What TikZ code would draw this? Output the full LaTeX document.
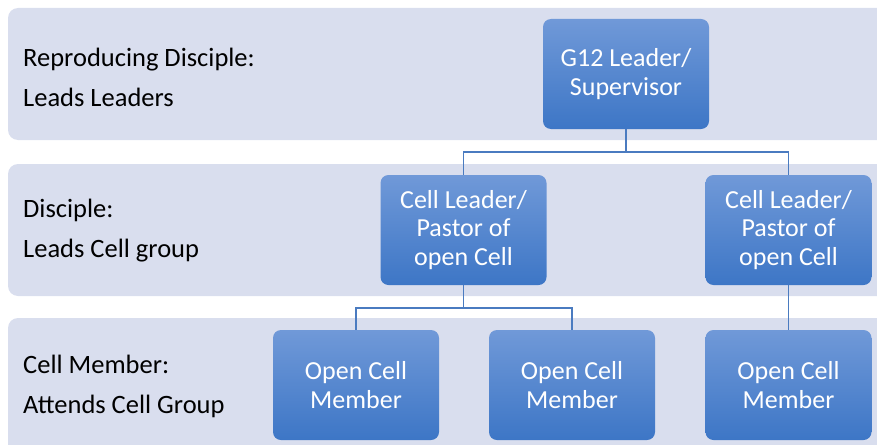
\documentclass[tikz,border=0pt]{standalone}
\usepackage{fontspec}
\setmainfont{Carlito}
\definecolor{bandfill}{HTML}{D9DEEE}
\definecolor{boxtop}{HTML}{7099D8}
\definecolor{boxbot}{HTML}{3D76C6}
\definecolor{linkblue}{HTML}{4A7BC0}
\tikzset{
  band/.style={fill=bandfill, draw=none, rounded corners=10pt},
  rolebox/.style={rectangle, rounded corners=8pt, top color=boxtop, bottom color=boxbot,
    draw=none, minimum width=166pt, minimum height=110pt, align=center,
    text=white, font=\fontsize{26}{28.5}\selectfont, inner sep=0pt},
  tiertext/.style={anchor=west, align=left, font=\fontsize{26.5}{40}\selectfont, text=black, inner sep=0pt},
  link/.style={draw=linkblue, line width=1.2pt}
}
\begin{document}
\begin{tikzpicture}[x=1pt, y=-1pt]
\useasboundingbox (0,0) rectangle (877,444);
\begin{scope}
\clip (0,0) rectangle (877,444);
% tier bands
\path[band] (8,8) rectangle (900,140);
\path[band] (8,164) rectangle (900,296);
\path[band] (8,318) rectangle (900,470);
\end{scope}
% tier captions
\node[tiertext] (t1) at (23,77) {Reproducing Disciple:\\Leads Leaders};
\node[tiertext] (t2) at (23,231) {Disciple:\\Leads Cell group};
\node[tiertext] (t3) at (23,386) {Cell Member:\\Attends Cell Group};
% role boxes
\node[rolebox] (g12) at (626,74) {G12 Leader/\\Supervisor};
\node[rolebox] (cl1) at (463.5,230) {Cell Leader/\\Pastor of\\open Cell};
\node[rolebox] (cl2) at (788.5,230) {Cell Leader/\\Pastor of\\open Cell};
\node[rolebox] (m1) at (356,385) {Open Cell\\Member};
\node[rolebox] (m2) at (572,385) {Open Cell\\Member};
\node[rolebox] (m3) at (788.5,385) {Open Cell\\Member};
% connectors
\coordinate (j1) at (626,152);
\coordinate (j2) at (463.5,308);
\draw[link] (g12.south) -- (j1);
\draw[link] (cl1.north) |- (j1) -| (cl2.north);
\draw[link] (cl1.south) -- (j2);
\draw[link] (m1.north) |- (j2) -| (m2.north);
\draw[link] (cl2.south) -- (m3.north);
\end{tikzpicture}
\end{document}
